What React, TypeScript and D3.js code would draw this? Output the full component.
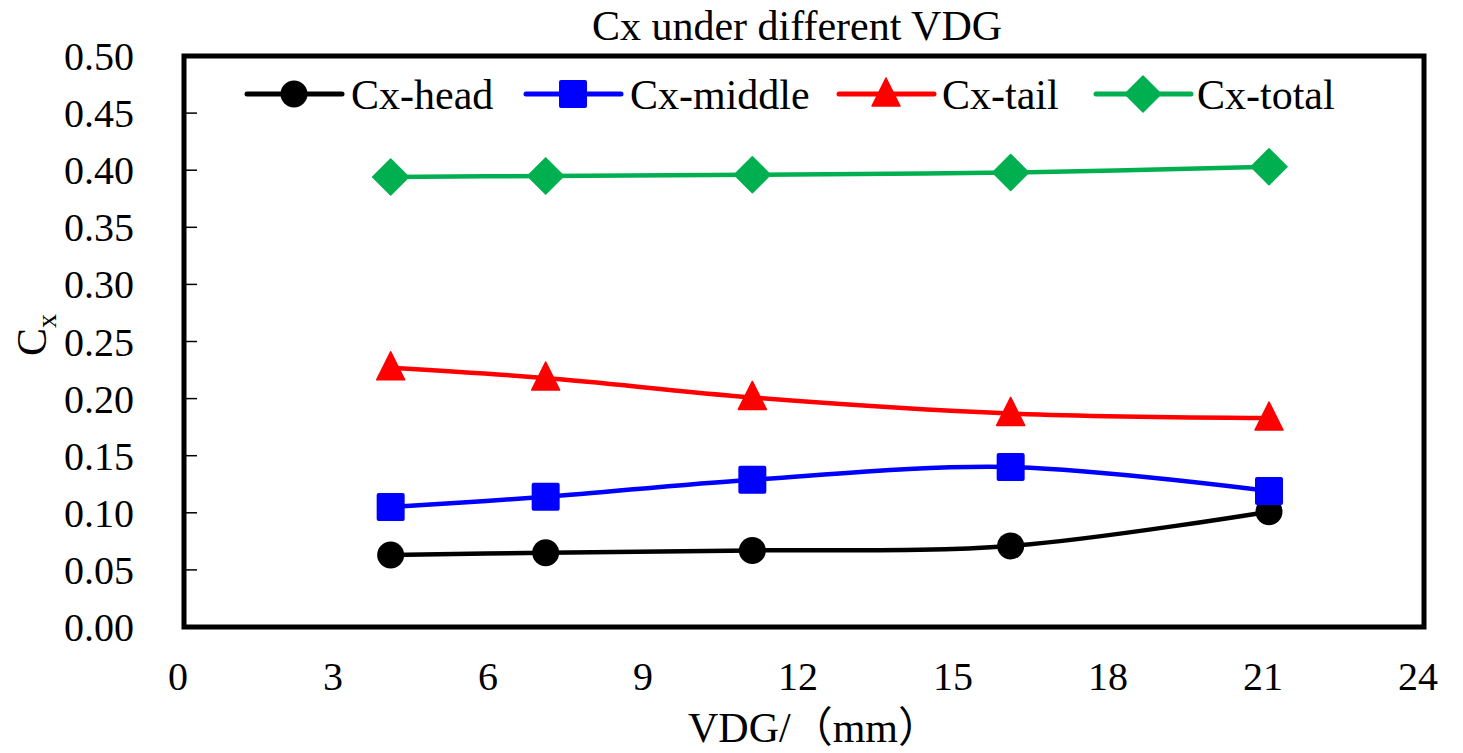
import React from "react";
import * as d3 from "d3";

const vdg = [4, 7, 11, 16, 21];
const cxHead = [0.063, 0.065, 0.067, 0.071, 0.101];
const cxMiddle = [0.105, 0.114, 0.129, 0.140, 0.119];
const cxTail = [0.227, 0.218, 0.201, 0.187, 0.183];
const cxTotal = [0.394, 0.395, 0.396, 0.398, 0.403];
const xTicks = [0, 3, 6, 9, 12, 15, 18, 21, 24];
const yTicks = [0, 0.05, 0.1, 0.15, 0.2, 0.25, 0.3, 0.35, 0.4, 0.45, 0.5];
const seriesNames = ["Cx-head", "Cx-middle", "Cx-tail", "Cx-total"];
const seriesColors = ["#000000", "#0000ff", "#ff0000", "#00b050"];
const seriesShapes = ["circle", "square", "triangle", "diamond"];
const seriesValues = [cxHead, cxMiddle, cxTail, cxTotal];

const W = 1463, H = 753;
const L = 184, R = 1424, T = 56, B = 627;
const FONT = "'Liberation Serif', 'Times New Roman', 'Noto Sans CJK SC', serif";

function Marker({ shape, x, y, color }: { shape: string; x: number; y: number; color: string }) {
  if (shape === "circle") return <circle cx={x} cy={y} r={13.5} fill={color} />;
  if (shape === "square") return <rect x={x - 14} y={y - 14} width={28} height={28} rx={2} fill={color} />;
  if (shape === "triangle")
    return <path d={`M${x},${y - 16} L${x + 14},${y + 12} L${x - 14},${y + 12} Z`} fill={color} strokeLinejoin="round" stroke={color} strokeWidth={1.5} />;
  return <path d={`M${x},${y - 18} L${x + 18},${y} L${x},${y + 18} L${x - 18},${y} Z`} fill={color} stroke={color} strokeWidth={1.5} strokeLinejoin="round" />;
}

export default function App() {
  const x = d3.scaleLinear().domain([0, 24]).range([L, R]);
  const y = d3.scaleLinear().domain([0, 0.5]).range([B, T]);
  const line = d3
    .line<number>()
    .x((_, i) => x(vdg[i]))
    .y((d) => y(d))
    .curve(d3.curveCatmullRom.alpha(0.5));

  const legendItems = [
    { lineStart: 247, text: 351 },
    { lineStart: 526, text: 630 },
    { lineStart: 839, text: 942 },
    { lineStart: 1096, text: 1197 },
  ];
  const legendY = 94;

  return (
    <svg width={W} height={H} style={{ position: "absolute", left: 0, top: 0, background: "#fff" }} fontFamily={FONT}>
      <rect x={0} y={0} width={W} height={H} fill="#fff" />
      <text x={797} y={40} fontSize={42} textAnchor="middle" fill="#000">Cx under different VDG</text>

      {yTicks.slice(1, -1).map((t) => (
        <line key={"yt" + t} x1={L} x2={L + 13} y1={y(t)} y2={y(t)} stroke="#000" strokeWidth={1.5} />
      ))}
      {yTicks.map((t) => (
        <text key={"yl" + t} x={134} y={y(t)} dy="0.35em" fontSize={40} textAnchor="end" fill="#000">
          {t.toFixed(2)}
        </text>
      ))}
      {xTicks.map((t) => (
        <text key={"xl" + t} x={x(t) - 6} y={690} fontSize={40} textAnchor="middle" fill="#000">
          {t}
        </text>
      ))}

      {seriesValues.map((vals, si) => (
        <g key={"s" + si}>
          <path d={line(vals) || ""} fill="none" stroke={seriesColors[si]} strokeWidth={4.5} />
          {vals.map((v, i) => (
            <Marker key={i} shape={seriesShapes[si]} x={x(vdg[i])} y={y(v)} color={seriesColors[si]} />
          ))}
        </g>
      ))}

      {legendItems.map((it, i) => (
        <g key={"lg" + i}>
          <line x1={it.lineStart} x2={it.lineStart + 95} y1={legendY} y2={legendY} stroke={seriesColors[i]} strokeWidth={5} strokeLinecap="round" />
          <Marker shape={seriesShapes[i]} x={it.lineStart + 47} y={legendY} color={seriesColors[i]} />
          <text x={it.text} y={legendY} dy="0.35em" fontSize={42} fill="#000">{seriesNames[i]}</text>
        </g>
      ))}

      <rect x={L} y={T} width={R - L} height={B - T} fill="none" stroke="#000" strokeWidth={5} />

      <text x={814} y={742} fontSize={42} textAnchor="middle" fill="#000">VDG/（mm）</text>
      <text transform="translate(46,335) rotate(-90)" fontSize={42} textAnchor="middle" fill="#000">
        C<tspan fontSize={28} dy={10}>x</tspan>
      </text>
    </svg>
  );
}
